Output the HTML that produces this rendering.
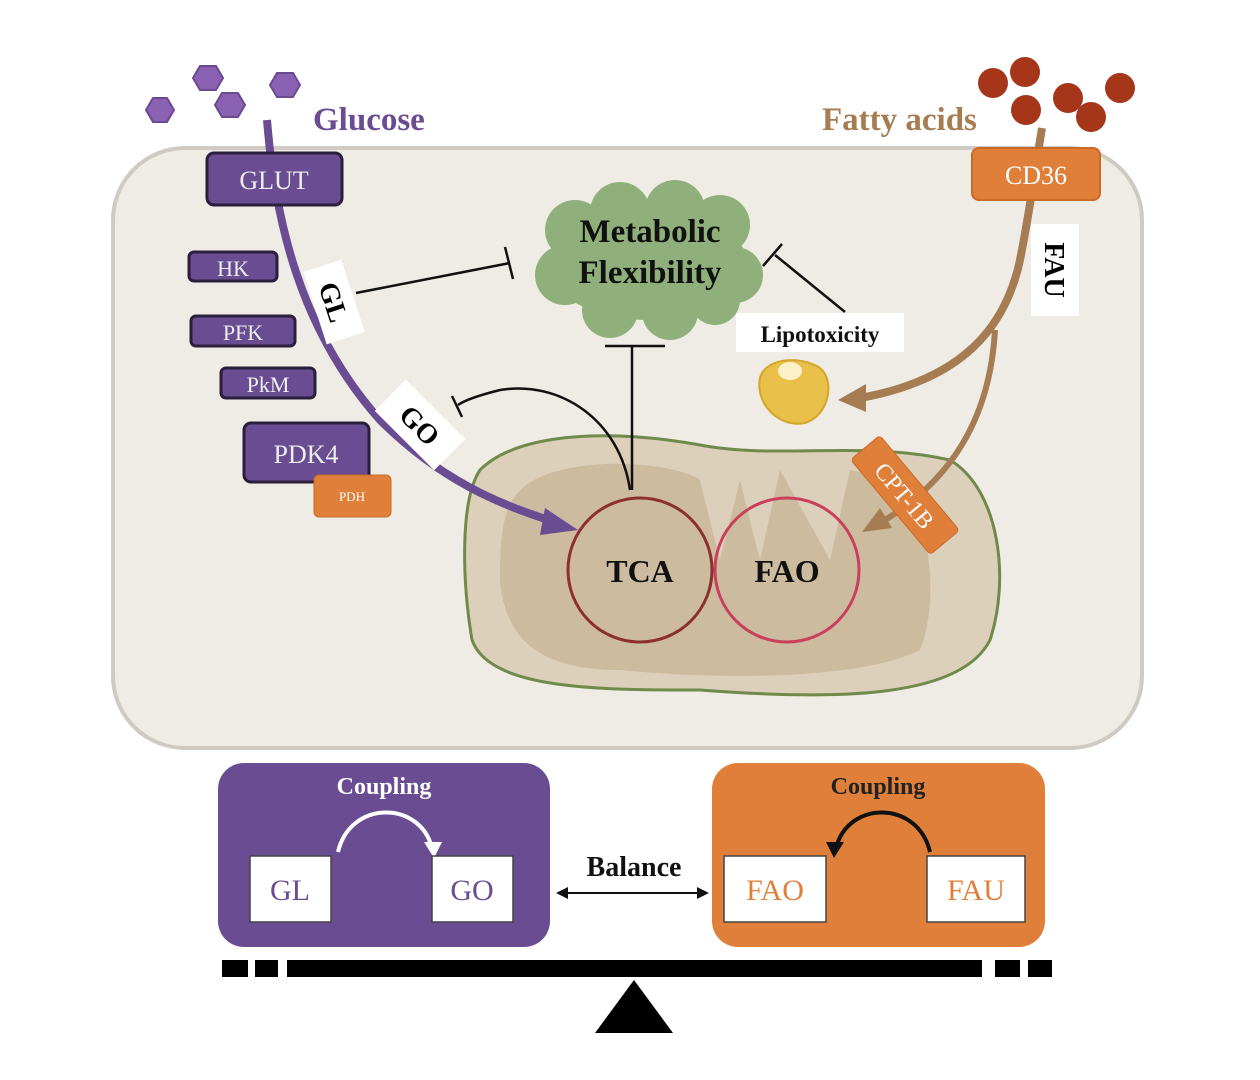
<!DOCTYPE html>
<html><head><meta charset="utf-8"><style>
html,body{margin:0;padding:0;background:#fff;}
svg{display:block;font-family:"Liberation Serif",serif;}
</style></head><body>
<svg width="1260" height="1080" viewBox="0 0 1260 1080" xmlns="http://www.w3.org/2000/svg">
<rect width="1260" height="1080" fill="#fff"/>
<!-- cell -->
<rect x="113" y="148" width="1029" height="600" rx="72" fill="#efebe5" stroke="#cfcac3" stroke-width="4"/>
<!-- glucose hexagons -->
<g fill="#8b62b3" stroke="#6a4a90" stroke-width="2">
<polygon points="146,110 153,98 167,98 174,110 167,122 153,122"/>
<polygon points="193,78 200,66 216,66 223,78 216,90 200,90"/>
<polygon points="215,105 222,93 238,93 245,105 238,117 222,117"/>
<polygon points="270,85 277,73 293,73 300,85 293,97 277,97"/>
</g>
<text x="313" y="130" font-size="33" font-weight="bold" fill="#6a4c93">Glucose</text>
<!-- fatty acids -->
<g fill="#a5361a">
<circle cx="993" cy="83" r="15"/><circle cx="1025" cy="72" r="15"/><circle cx="1026" cy="110" r="15"/>
<circle cx="1068" cy="98" r="15"/><circle cx="1091" cy="117" r="15"/><circle cx="1120" cy="88" r="15"/>
</g>
<text x="822" y="130" font-size="33" font-weight="bold" fill="#a67c52">Fatty acids</text>
<!-- mitochondrion -->
<path d="M480,470 C520,430 620,430 700,445 C780,460 860,440 950,460 C1000,490 1010,580 990,640 C960,700 830,700 700,690 C600,690 490,690 472,640 C462,580 460,500 480,470 Z" fill="#ddd0bb" stroke="#6f8a4a" stroke-width="3"/>
<path d="M545,475 C600,455 680,465 700,480 L720,560 L740,480 L760,560 L780,470 L830,560 L850,470 L900,480 C930,520 940,600 920,650 C860,680 720,680 620,670 C540,670 505,640 500,580 C500,520 505,490 545,475 Z" fill="#c9b598" opacity="0.8"/>
<circle cx="640" cy="570" r="72" fill="none" stroke="#8b2f2f" stroke-width="3"/>
<circle cx="787" cy="570" r="72" fill="none" stroke="#c9405a" stroke-width="3"/>
<text x="640" y="582" font-size="32" font-weight="bold" text-anchor="middle" fill="#111">TCA</text>
<text x="787" y="582" font-size="32" font-weight="bold" text-anchor="middle" fill="#111">FAO</text>
<!-- purple path -->
<path d="M267,120 C275,220 300,330 380,420 C440,480 500,505 555,522" fill="none" stroke="#6a4c93" stroke-width="8"/>
<polygon points="578,530 545,508 540,535" fill="#6a4c93"/>
<!-- brown paths -->
<path d="M1042,128 C1035,170 1030,210 1020,260 C1005,330 960,380 860,398" fill="none" stroke="#a67c52" stroke-width="8"/>
<polygon points="838,400 866,384 866,412" fill="#a67c52"/>
<path d="M995,330 C990,420 950,480 885,520" fill="none" stroke="#a67c52" stroke-width="6"/>
<polygon points="862,532 880,508 892,528" fill="#a67c52"/>
<!-- boxes -->
<g stroke="#2a1f3a" stroke-width="3" fill="#6a4c93">
<rect x="207" y="153" width="135" height="52" rx="7"/>
<rect x="189" y="252" width="88" height="29" rx="5"/>
<rect x="191" y="316" width="104" height="30" rx="5"/>
<rect x="221" y="368" width="94" height="30" rx="5"/>
<rect x="244" y="423" width="125" height="59" rx="7"/>
</g>
<g fill="#eee" text-anchor="middle">
<text x="274" y="189" font-size="26">GLUT</text>
<text x="233" y="276" font-size="22">HK</text>
<text x="243" y="340" font-size="22">PFK</text>
<text x="268" y="392" font-size="22">PkM</text>
<text x="306" y="463" font-size="26">PDK4</text>
</g>
<rect x="314" y="475" width="77" height="42" rx="5" fill="#e07f3a" stroke="#c96a28"/>
<text x="352" y="501" font-size="13" fill="#fff" text-anchor="middle">PDH</text>
<rect x="972" y="148" width="128" height="52" rx="7" fill="#e07f3a" stroke="#c96a28" stroke-width="2"/>
<text x="1036" y="184" font-size="26" fill="#fff" text-anchor="middle">CD36</text>
<g transform="translate(905,495) rotate(50)">
<rect x="-62" y="-19" width="124" height="38" rx="4" fill="#e07f3a" stroke="#c96a28"/>
<text x="0" y="9" font-size="24" fill="#fff" text-anchor="middle">CPT-1B</text>
</g>
<!-- labels -->
<g transform="translate(334,302) rotate(72)">
<rect x="-38" y="-20" width="76" height="40" fill="#fff"/>
<text x="0" y="10" font-size="28" font-weight="bold" text-anchor="middle">GL</text>
</g>
<g transform="translate(420,425) rotate(45)">
<rect x="-42" y="-22" width="84" height="44" fill="#fff"/>
<text x="0" y="10" font-size="28" font-weight="bold" text-anchor="middle">GO</text>
</g>
<g transform="translate(1055,270) rotate(90)">
<rect x="-46" y="-24" width="92" height="48" fill="#fff"/>
<text x="0" y="10" font-size="28" font-weight="bold" text-anchor="middle">FAU</text>
</g>
<!-- cloud -->
<g fill="#8fb07a">
<ellipse cx="648" cy="265" rx="100" ry="55"/>
<circle cx="575" cy="230" r="30"/><circle cx="620" cy="212" r="30"/><circle cx="675" cy="210" r="30"/><circle cx="720" cy="225" r="30"/>
<circle cx="565" cy="275" r="30"/><circle cx="735" cy="275" r="28"/><circle cx="610" cy="310" r="28"/><circle cx="670" cy="312" r="28"/><circle cx="715" cy="300" r="25"/>
</g>
<text x="650" y="242" font-size="33" font-weight="bold" text-anchor="middle" fill="#111">Metabolic</text>
<text x="650" y="283" font-size="33" font-weight="bold" text-anchor="middle" fill="#111">Flexibility</text>
<!-- inhibitions -->
<g stroke="#111" stroke-width="2.5" fill="none">
<line x1="356" y1="293" x2="510" y2="263"/><line x1="505" y1="247" x2="513" y2="279"/>
<line x1="632" y1="490" x2="632" y2="346"/><line x1="605" y1="346" x2="665" y2="346"/>
<path d="M630,490 C620,420 560,380 500,390 C480,395 465,400 458,405"/><line x1="452" y1="396" x2="462" y2="417"/>
<line x1="845" y1="312" x2="775" y2="255"/><line x1="763" y1="266" x2="782" y2="244"/>
</g>
<rect x="736" y="313" width="168" height="39" fill="#fff"/>
<text x="820" y="342" font-size="23" font-weight="bold" text-anchor="middle" fill="#111">Lipotoxicity</text>
<!-- lipid droplet -->
<path d="M760,378 C765,358 800,355 820,368 C835,380 830,415 805,423 C780,428 755,405 760,378 Z" fill="#e8c04a" stroke="#d4a62c" stroke-width="2"/>
<ellipse cx="790" cy="371" rx="12" ry="9" fill="#fbf0c8"/>
<!-- bottom -->
<rect x="218" y="763" width="332" height="184" rx="26" fill="#6a4c93"/>
<rect x="712" y="763" width="333" height="184" rx="26" fill="#e07f3a"/>
<text x="384" y="794" font-size="24" font-weight="bold" fill="#fff" text-anchor="middle">Coupling</text>
<text x="878" y="794" font-size="24" font-weight="bold" fill="#222" text-anchor="middle">Coupling</text>
<path d="M338,852 C350,800 420,800 432,848" fill="none" stroke="#fff" stroke-width="4"/>
<polygon points="434,858 424,842 442,842" fill="#fff"/>
<path d="M930,852 C918,800 848,800 836,848" fill="none" stroke="#111" stroke-width="4"/>
<polygon points="834,858 826,842 844,842" fill="#111"/>
<g fill="#fff" stroke="#444" stroke-width="1.5">
<rect x="250" y="856" width="81" height="66"/><rect x="432" y="856" width="81" height="66"/>
<rect x="724" y="856" width="102" height="66"/><rect x="927" y="856" width="98" height="66"/>
</g>
<g font-size="30" text-anchor="middle">
<text x="290" y="900" fill="#6a4c93">GL</text><text x="472" y="900" fill="#6a4c93">GO</text>
<text x="775" y="900" fill="#e07f3a">FAO</text><text x="976" y="900" fill="#e07f3a">FAU</text>
</g>
<text x="634" y="876" font-size="28" font-weight="bold" text-anchor="middle" fill="#111">Balance</text>
<line x1="565" y1="893" x2="700" y2="893" stroke="#111" stroke-width="2"/>
<polygon points="556,893 568,887 568,899" fill="#111"/><polygon points="709,893 697,887 697,899" fill="#111"/>
<g fill="#000">
<rect x="222" y="960" width="26" height="17"/><rect x="255" y="960" width="23" height="17"/>
<rect x="287" y="960" width="695" height="17"/><rect x="995" y="960" width="25" height="17"/>
<rect x="1028" y="960" width="24" height="17"/>
<polygon points="634,980 595,1033 673,1033"/>
</g>
</svg>
</body></html>
